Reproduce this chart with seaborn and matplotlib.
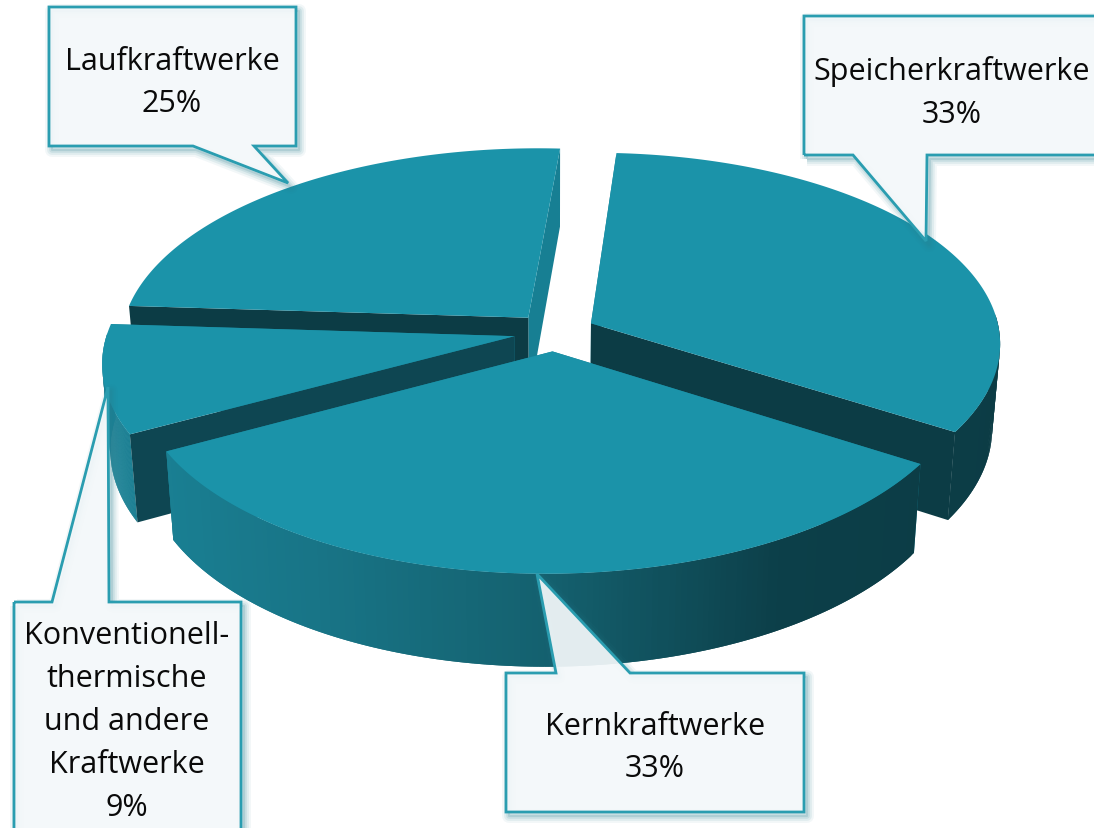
import numpy as np
import matplotlib
matplotlib.use('Agg')
import matplotlib.pyplot as plt
import seaborn as sns

# ---------- Data ----------
kraftwerke = ['Speicherkraftwerke', 'Kernkraftwerke',
              'Konventionell-\nthermische\nund andere\nKraftwerke', 'Laufkraftwerke']
anteile = [33, 33, 9, 25]

sns.set_theme(style='white')
plt.rcParams['font.family'] = ['Open Sans', 'DejaVu Sans']

# ---------- Fake 3D geometry (pixel space) ----------
CX, CY = 554.5, 333.0
A, B = 408.0, 192.0
PERSP = 0.115
EXPLODE = 0.10
START = 4.6
TILT = 0.008

TOP = '#1b93a9'
DARK = '#0c3c45'
SIDE = '#177f93'
EDGE = '#2a9db0'
wall_cmap = sns.blend_palette(['#1a8296', '#187486', '#14606e', '#0c3f49', '#0c3c45'],
                              n_colors=128, as_cmap=True)


def project(u, v):
    w = 1 + PERSP * v
    x = CX + A * u / w
    return x, CY - B * v / w + TILT * (CX - x)


def drop(x, y):
    # bottom rim of the slab
    return CX + (x - CX) * 0.982, 226 + 1.035 * (y - 148)


fig, ax = plt.subplots(figsize=(10.94, 8.29), dpi=100)
ax.set_position([0, 0, 1, 1])
ax.set_xlim(0, 1094)
ax.set_ylim(829, 0)
ax.axis('off')

# wedge angles, clockwise from the top
edges = START + np.cumsum([0] + anteile) * 3.6


def draw_wedge(i, z):
    t0, t1 = np.radians(edges[i]), np.radians(edges[i + 1])
    mid = (t0 + t1) / 2
    ou, ov = EXPLODE * np.sin(mid), EXPLODE * np.cos(mid)
    th = np.linspace(t0, t1, 160)
    rx, ry = project(ou + np.sin(th), ov + np.cos(th))
    ax0, ay0 = project(ou, ov)
    bx, by = drop(rx, ry)
    abx, aby = drop(ax0, ay0)

    faces = [(0, t0 - np.pi / 2), (-1, t1 + np.pi / 2)]

    # cut faces looking away from the viewer go under the wall
    for j, normal in faces:
        if np.cos(normal) >= -0.2:
            ax.fill([ax0, rx[j], bx[j], abx], [ay0, ry[j], by[j], aby],
                    color=SIDE, lw=0, zorder=z)

    # outer wall, only the front half; quads overlap so no seams show
    for k in range(len(th) - 1):
        tm = (th[k] + th[k + 1]) / 2
        if np.cos(tm) > 0.03:
            continue
        n = min(k + 2, len(th) - 1)
        ax.fill([rx[k], rx[n], bx[n], bx[k]], [ry[k], ry[n], by[n], by[k]],
                color=wall_cmap((np.sin(tm) + 1) / 2), lw=0, zorder=z)

    for j, normal in faces:
        if np.cos(normal) < -0.2:
            col = '#0e4652' if anteile[i] < 10 else DARK
            ax.fill([ax0, rx[j], bx[j], abx], [ay0, ry[j], by[j], aby],
                    color=col, lw=0, zorder=z)

    ax.fill(np.r_[ax0, rx], np.r_[ay0, ry], color=TOP, lw=0, zorder=z + 0.5)


# painter's order: back to front
for z, i in enumerate([3, 2, 0, 1]):
    draw_wedge(i, z + 1)

# ---------- Callouts ----------
callouts = {
    3: ([49, 193, 288, 254, 296, 296, 49], [147, 147, 184, 147, 147, 8, 8], (172, 83)),
    0: ([804, 853, 926, 927, 1110, 1110, 804], [156, 156, 242, 156, 156, 17, 17], (952, 93)),
    1: ([506, 556, 537, 630, 804, 804, 506], [674, 674, 575, 674, 674, 813, 813], (655, 748)),
    2: ([14, 52, 108, 109, 241, 241, 14], [603, 603, 388, 603, 603, 845, 845], (127, 722)),
}

for i, (xs, ys, (tx, ty)) in callouts.items():
    xs, ys = np.array(xs, float), np.array(ys, float)
    for lw, al in ((10, 0.06), (7, 0.09), (4, 0.12), (1.5, 0.16)):
        ax.fill(xs + 3, ys + 4, facecolor='none', edgecolor='#2a7f90',
                lw=lw, alpha=al, zorder=9, joinstyle='round')
    ax.fill(xs, ys, facecolor='#f4f8fa', edgecolor='none', alpha=0.93, zorder=10)
    ax.fill(xs, ys, facecolor='none', edgecolor=EDGE, lw=2.0, zorder=11, joinstyle='miter')
    ax.text(tx, ty, f'{kraftwerke[i]}\n{anteile[i]}%', ha='center', va='center',
            fontsize=22, color='#0a0a0a', linespacing=1.56, zorder=12)

fig.savefig('out.png', dpi=100)
plt.close(fig)
